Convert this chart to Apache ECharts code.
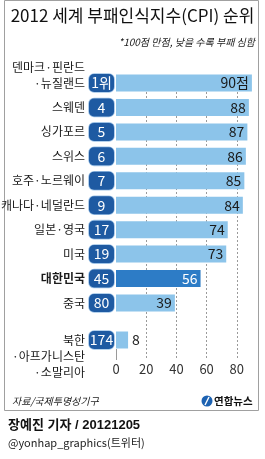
<!DOCTYPE html>
<html>
<head>
<meta charset="utf-8">
<script src="https://cdn.jsdelivr.net/npm/echarts@6/dist/echarts.min.js"></script>
<style>
html, body { margin: 0; padding: 0; background: #fff; }
#chart { width: 265px; height: 459px; }
</style>
</head>
<body>
<div id="chart"></div>
<script>
const countries = ['덴마크·핀란드·뉴질랜드', '스웨덴', '싱가포르', '스위스', '호주·노르웨이', '캐나다·네덜란드', '일본·영국', '미국', '대한민국', '중국', '북한·아프가니스탄·소말리아'];
const nameLines = [
    ['덴마크·핀란드', '·뉴질랜드'],
    ['스웨덴'],
    ['싱가포르'],
    ['스위스'],
    ['호주·노르웨이'],
    ['캐나다·네덜란드'],
    ['일본·영국'],
    ['미국'],
    ['대한민국'],
    ['중국'],
    ['북한', '·아프가니스탄', '·소말리아']
];
// line of each label that sits next to the bar
const anchorLine = [1, 0, 0, 0, 0, 0, 0, 0, 0, 0, 0];
const ranks = ['1위', '4', '5', '6', '7', '9', '17', '19', '45', '80', '174'];
const scores = [90, 88, 87, 86, 85, 84, 74, 73, 56, 39, 8];
const scoreUnit = '점';
const xTicks = [0, 20, 40, 60, 80];
const highlight = '대한민국';

const NARROW = '"Liberation Sans Narrow", "Noto Sans CJK KR", sans-serif';
const KR = '"Noto Sans CJK KR", sans-serif';
const LIGHT = '#8cc4ea';
const DARK = '#2d7cc6';
const BADGE = '#1e5aa2';

// pad a multi-line label with blank lines so the anchor line is centred on the tick
const centerOn = (lines, k) => {
    const before = k;
    const after = lines.length - 1 - k;
    const out = lines.slice();
    for (let i = after; i < before; i++) out.push(' ');
    for (let i = before; i < after; i++) out.unshift(' ');
    return out.join('\n');
};

const topCount = 10;
const groups = [
    { from: 0, to: topCount },
    { from: topCount, to: countries.length }
];

const chart = echarts.init(document.getElementById('chart'));

const xBase = {
    type: 'value',
    min: 0,
    max: 100,
    interval: 20
};

const grids = [
    { left: 116, width: 151, top: 70.8, height: 244.4, outerBoundsMode: 'none' },
    { left: 116, width: 151, top: 322, height: 36, outerBoundsMode: 'none' },
    { left: 116, width: 151, top: 92, height: 268, outerBoundsMode: 'none' },
    { left: 116, width: 151, top: 349, height: 11, outerBoundsMode: 'none' }
];

const xAxes = [
    Object.assign({ gridIndex: 0, show: false }, xBase),
    Object.assign({ gridIndex: 1, show: false }, xBase),
    Object.assign({
        gridIndex: 2,
        axisLine: { show: false },
        axisTick: { show: false },
        axisLabel: {
            margin: 3,
            color: '#333',
            fontSize: 13,
            fontFamily: NARROW,
            formatter: v => xTicks.indexOf(v) >= 0 ? String(v) : ''
        },
        splitLine: {
            show: true,
            lineStyle: {
                type: [2, 2],
                width: 1,
                color: ['rgba(0,0,0,0)', '#9a9a9a', '#9a9a9a', '#9a9a9a', '#9a9a9a', 'rgba(0,0,0,0)']
            }
        }
    }, xBase),
    Object.assign({
        gridIndex: 3,
        axisLine: { show: false },
        axisTick: { show: false },
        axisLabel: { show: false },
        splitLine: {
            show: true,
            lineStyle: {
                width: 1,
                color: ['#9a9a9a', 'rgba(0,0,0,0)', 'rgba(0,0,0,0)', 'rgba(0,0,0,0)', 'rgba(0,0,0,0)', 'rgba(0,0,0,0)']
            }
        }
    }, xBase)
];

const yAxes = [];
const series = [];

groups.forEach((g, gi) => {
    const cats = countries.slice(g.from, g.to).map(c => c === highlight
        ? { value: c, textStyle: { fontWeight: 'bold' } }
        : c);
    // country names
    yAxes.push({
        gridIndex: gi,
        type: 'category',
        position: 'left',
        inverse: true,
        data: cats,
        axisLine: { show: false },
        axisTick: { show: false },
        axisLabel: {
            interval: 0,
            hideOverlap: false,
            margin: 31,
            fontSize: 12,
            lineHeight: 16,
            color: '#1a1a1a',
            fontFamily: NARROW,
            formatter: (v, i) => centerOn(nameLines[g.from + i], anchorLine[g.from + i])
        }
    });
    // rank badges
    yAxes.push({
        gridIndex: gi,
        type: 'category',
        position: 'left',
        offset: 0,
        inverse: true,
        data: countries.slice(g.from, g.to),
        axisLine: { show: false },
        axisTick: { show: false },
        axisLabel: {
            interval: 0,
            margin: 2,
            formatter: (v, i) => '{b|' + ranks[g.from + i] + '}',
            rich: {
                b: {
                    backgroundColor: BADGE,
                    borderColor: '#9fc3e6',
                    borderWidth: 0.8,
                    borderRadius: 5,
                    color: '#fff',
                    width: 25,
                    height: 18,
                    lineHeight: 18,
                    align: 'center',
                    fontSize: 14,
                    fontFamily: NARROW
                }
            }
        }
    });
    const last = gi === groups.length - 1;
    series.push({
        type: 'bar',
        xAxisIndex: gi,
        yAxisIndex: gi * 2,
        barWidth: 17,
        silent: true,
        data: scores.slice(g.from, g.to).map((v, i) => {
            const hot = countries[g.from + i] === highlight;
            return {
                value: v,
                itemStyle: { color: hot ? DARK : LIGHT },
                label: { color: hot ? '#fff' : '#1a1a1a' }
            };
        }),
        label: {
            show: true,
            position: last ? 'right' : 'insideRight',
            distance: last ? 4 : 3,
            fontSize: 14,
            fontFamily: NARROW,
            formatter: p => (g.from + p.dataIndex === 0) ? p.value + scoreUnit : String(p.value)
        }
    });
});

yAxes.push({ gridIndex: 2, type: 'value', show: false });
yAxes.push({ gridIndex: 3, type: 'value', show: false });

const option = {
    animation: false,
    backgroundColor: '#fff',
    title: [
        {
            text: '2012 세계 부패인식지수(CPI) 순위',
            left: 'center',
            top: 7,
            padding: 0,
            textStyle: { fontSize: 17, fontWeight: 'normal', color: '#111', fontFamily: NARROW }
        },
        {
            text: '*100점 만점, 낮을 수록 부패 심함',
            right: 10,
            top: 37,
            padding: 0,
            textStyle: { fontSize: 10, fontWeight: 'normal', fontStyle: 'italic', color: '#222', fontFamily: NARROW }
        },
        {
            text: '자료/국제투명성기구',
            left: 12,
            top: 396,
            padding: 0,
            textStyle: { fontSize: 10, fontWeight: 'normal', fontStyle: 'italic', color: '#222', fontFamily: NARROW }
        },
        {
            text: '장예진 기자 / 20121205',
            left: 8,
            top: 419,
            padding: 0,
            textStyle: { fontSize: 13, fontWeight: 'bold', color: '#111', fontFamily: '"Liberation Sans", "Noto Sans CJK KR", sans-serif' }
        },
        {
            text: '@yonhap_graphics(트위터)',
            left: 8,
            top: 437,
            padding: 0,
            textStyle: { fontSize: 11, fontWeight: 'normal', color: '#222', fontFamily: NARROW }
        }
    ],
    graphic: [
        {
            type: 'rect',
            shape: { x: 4.5, y: 0.5, width: 254, height: 410 },
            style: { fill: 'none', stroke: '#a0a0a0', lineWidth: 1 },
            silent: true
        },
        {
            type: 'circle',
            shape: { cx: 207, cy: 401, r: 5.5 },
            style: { fill: '#1c62b2' }
        },
        {
            type: 'line',
            shape: { x1: 209, y1: 397, x2: 205, y2: 405 },
            style: { stroke: '#fff', lineWidth: 1.4 }
        },
        {
            type: 'text',
            x: 214,
            y: 401,
            style: {
                text: '연합뉴스',
                fill: '#111',
                fontSize: 10.5,
                fontWeight: 'bold',
                fontFamily: KR,
                verticalAlign: 'middle'
            }
        }
    ],
    grid: grids,
    xAxis: xAxes,
    yAxis: yAxes,
    series: series
};

option && chart.setOption(option);
</script>
</body>
</html>
